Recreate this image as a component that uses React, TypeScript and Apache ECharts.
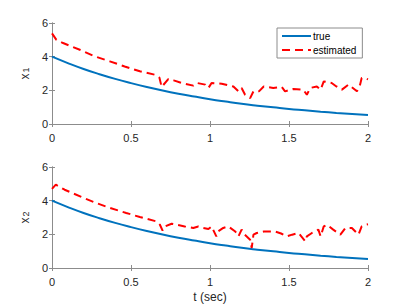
import React, { useEffect, useRef } from "react";
import * as echarts from "echarts";

const trueT = [0, 0.1, 0.2, 0.3, 0.4, 0.5, 0.6, 0.7, 0.8, 0.9, 1.0, 1.1, 1.2, 1.3, 1.4, 1.5, 1.6, 1.7, 1.8, 1.9, 2.0];
const trueX1 = [4.0, 3.62, 3.27, 2.96, 2.68, 2.43, 2.2, 1.99, 1.8, 1.63, 1.47, 1.33, 1.2, 1.09, 0.99, 0.89, 0.81, 0.73, 0.66, 0.6, 0.54];
const trueX2 = [4.0, 3.62, 3.27, 2.96, 2.68, 2.43, 2.2, 1.99, 1.8, 1.63, 1.47, 1.33, 1.2, 1.09, 0.99, 0.89, 0.81, 0.73, 0.66, 0.6, 0.54];

const estT1 = [0, 0.028, 0.07, 0.176, 0.27, 0.366, 0.46, 0.556, 0.65, 0.68, 0.694, 0.736, 0.77, 0.82, 0.894, 0.916, 0.97, 0.99, 1.01, 1.074, 1.148, 1.18, 1.2, 1.222, 1.254, 1.275, 1.31, 1.34, 1.4, 1.454, 1.475, 1.528, 1.59, 1.613, 1.634, 1.676, 1.7, 1.72, 1.77, 1.8, 1.835, 1.877, 1.93, 1.95, 1.96, 1.98, 2.0];
const estX1 = [5.38, 5.0, 4.81, 4.41, 4.02, 3.72, 3.42, 3.13, 2.93, 2.75, 2.2, 2.67, 2.59, 2.44, 2.28, 2.44, 2.34, 2.14, 2.44, 2.39, 2.23, 1.94, 2.14, 1.74, 1.54, 1.94, 1.94, 2.23, 2.14, 2.2, 1.94, 2.08, 2.04, 1.74, 2.14, 2.23, 2.04, 2.53, 2.44, 2.23, 2.04, 2.34, 1.94, 2.34, 2.73, 2.73, 2.65];

const estT2 = [0, 0.024, 0.08, 0.186, 0.28, 0.366, 0.47, 0.556, 0.66, 0.683, 0.7, 0.715, 0.757, 0.79, 0.84, 0.894, 0.926, 0.958, 0.99, 1.01, 1.04, 1.05, 1.084, 1.116, 1.16, 1.18, 1.2, 1.22, 1.254, 1.264, 1.275, 1.296, 1.34, 1.41, 1.45, 1.486, 1.52, 1.56, 1.603, 1.613, 1.645, 1.686, 1.7, 1.72, 1.74, 1.78, 1.825, 1.857, 1.898, 1.92, 1.94, 1.96, 1.985, 2.0];
const estX2 = [4.7, 4.95, 4.65, 4.22, 3.86, 3.57, 3.27, 3.03, 2.77, 2.57, 2.22, 2.47, 2.63, 2.57, 2.47, 2.38, 2.47, 2.38, 2.32, 2.47, 1.88, 2.17, 2.38, 2.47, 2.17, 1.88, 2.28, 1.98, 1.68, 1.19, 1.98, 2.08, 2.17, 2.17, 2.05, 1.88, 1.98, 2.08, 1.58, 1.88, 2.08, 2.28, 1.88, 2.47, 2.57, 2.28, 1.98, 2.38, 2.38, 2.17, 1.98, 2.47, 2.57, 2.6];

const xTicks = { min: 0, max: 2, interval: 0.5 };
const yTicks = { min: 0, max: 6, interval: 2 };

const AX = "#262626";
const LINE = "#8c8c8c";
const FONT = "Liberation Sans";
const BLUE = "#0072BD";
const RED = "#FF0000";

function zip(a: number[], b: number[]) {
  return a.map((v, i) => [v, b[i]]);
}

export default function App() {
  const ref = useRef<HTMLDivElement>(null);
  useEffect(() => {
    if (!ref.current) return;
    const chart = echarts.init(ref.current, undefined, { renderer: "svg" });
    const axisLine = { show: true, lineStyle: { color: LINE, width: 1 } };
    const tick = { show: true, inside: true, length: 3, lineStyle: { color: LINE } };
    const label = { color: AX, fontSize: 11, fontFamily: FONT };
    const mkX = (gi: number, pos: "bottom" | "top", showLabel: boolean, name?: string) => ({
      type: "value" as const,
      gridIndex: gi,
      position: pos,
      ...xTicks,
      axisLine,
      axisTick: tick,
      axisLabel: { ...label, show: showLabel, margin: 8 },
      splitLine: { show: false },
      name: name || "",
      nameLocation: "middle" as const,
      nameGap: 23,
      nameTextStyle: { color: AX, fontSize: 12, fontFamily: FONT },
    });
    const mkY = (gi: number, pos: "left" | "right", showLabel: boolean, sub?: string) => ({
      type: "value" as const,
      gridIndex: gi,
      position: pos,
      ...yTicks,
      axisLine,
      axisTick: tick,
      axisLabel: { ...label, show: showLabel, margin: 4 },
      splitLine: { show: false },
      name: sub ? `{x|x}{s|${sub}}` : "",
      nameLocation: "middle" as const,
      nameGap: 18,
      nameRotate: 90,
      nameTextStyle: {
        color: AX,
        fontFamily: FONT,
        rich: {
          x: { fontSize: 12, color: AX, fontFamily: FONT, verticalAlign: "top", lineHeight: 12 },
          s: { fontSize: 9, color: AX, fontFamily: FONT, verticalAlign: "bottom", lineHeight: 9, padding: [9, 0, 0, 1] },
        },
      },
    });
    chart.setOption({
      animation: false,
      backgroundColor: "#ffffff",
      grid: [
        { left: 52, right: 39, top: 23, height: 101 },
        { left: 52, right: 39, top: 167, height: 101 },
      ],
      xAxis: [
        mkX(0, "bottom", true),
        mkX(0, "top", false),
        mkX(1, "bottom", true, "t (sec)"),
        mkX(1, "top", false),
      ],
      yAxis: [
        mkY(0, "left", true, "1"),
        mkY(0, "right", false),
        mkY(1, "left", true, "2"),
        mkY(1, "right", false),
      ],
      legend: {
        orient: "vertical",
        left: 277,
        top: 28,
        data: ["true", "estimated"],
        itemWidth: 29,
        itemHeight: 10,
        itemGap: 4,
        padding: [3, 6, 3, 4],
        borderColor: LINE,
        borderWidth: 1,
        backgroundColor: "#ffffff",
        itemStyle: { opacity: 0 },
        textStyle: { color: "#000000", fontSize: 10, fontFamily: FONT, padding: [0, 0, 0, -3] },
      },
      series: [
        {
          name: "true",
          type: "line",
          xAxisIndex: 0,
          yAxisIndex: 0,
          data: zip(trueT, trueX1),
          smooth: true,
          symbol: "none",
          lineStyle: { color: BLUE, width: 2 },
          itemStyle: { color: BLUE },
        },
        {
          name: "estimated",
          type: "line",
          xAxisIndex: 0,
          yAxisIndex: 0,
          data: zip(estT1, estX1),
          symbol: "none",
          lineStyle: { color: RED, width: 2, type: [8, 5] },
          itemStyle: { color: RED },
        },
        {
          name: "true2",
          type: "line",
          xAxisIndex: 2,
          yAxisIndex: 2,
          data: zip(trueT, trueX2),
          smooth: true,
          symbol: "none",
          lineStyle: { color: BLUE, width: 2 },
          itemStyle: { color: BLUE },
        },
        {
          name: "estimated2",
          type: "line",
          xAxisIndex: 2,
          yAxisIndex: 2,
          data: zip(estT2, estX2),
          symbol: "none",
          lineStyle: { color: RED, width: 2, type: [8, 5] },
          itemStyle: { color: RED },
        },
      ],
    });
    return () => chart.dispose();
  }, []);
  return <div ref={ref} style={{ width: 407, height: 305, position: "absolute", left: 0, top: 0 }} />;
}
